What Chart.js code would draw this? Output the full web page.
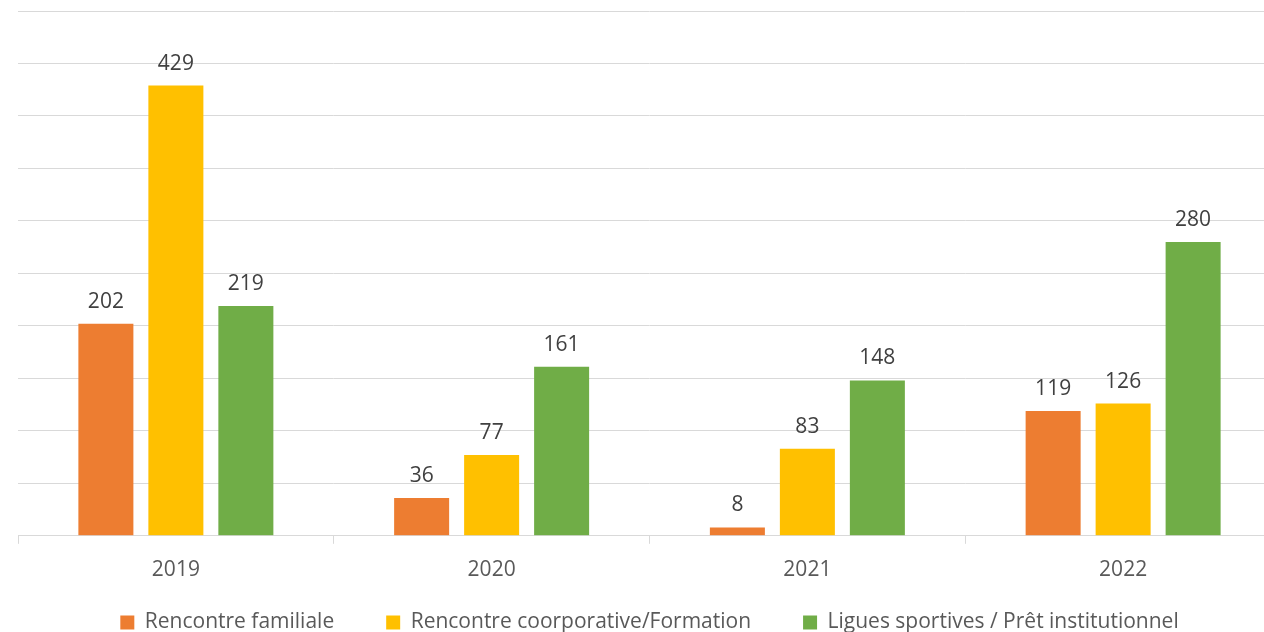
<!DOCTYPE html>
<html>
<head>
<meta charset="utf-8">
<script src="https://cdn.jsdelivr.net/npm/chart.js@4.4.0/dist/chart.umd.min.js"></script>
<style>
  html, body { margin: 0; padding: 0; background: #fff; overflow: hidden; }
  #wrap { width: 1300px; height: 632px; position: relative; }
</style>
</head>
<body>
<div id="wrap"><canvas id="c"></canvas></div>
<script>
const categories = ['2019', '2020', '2021', '2022'];
const seriesNames = ['Rencontre familiale', 'Rencontre coorporative/Formation', 'Ligues sportives / Prêt institutionnel'];
const familiale = [202, 36, 8, 119];
const corporative = [429, 77, 83, 126];
const ligues = [219, 161, 148, 280];
const colors = ['#ED7D31', '#FFC000', '#70AD47'];
const FONT = '"Open Sans", "Noto Sans", sans-serif';

const valueLabels = {
  id: 'valueLabels',
  afterDatasetsDraw(chart) {
    const ctx = chart.ctx;
    ctx.save();
    ctx.font = '21px ' + FONT;
    ctx.fillStyle = '#404040';
    ctx.textAlign = 'center';
    ctx.textBaseline = 'alphabetic';
    chart.data.datasets.forEach((ds, i) => {
      const meta = chart.getDatasetMeta(i);
      meta.data.forEach((el, j) => {
        ctx.fillText(String(ds.data[j]), el.x, el.y - 16);
      });
    });
    ctx.restore();
  }
};

// move the legend row after layout (keeps wide horizontal spacing)
const legendShift = {
  id: 'legendShift',
  afterLayout(chart) {
    const lg = chart.legend;
    if (!lg) return;
    const target = 612; // top of legend items
    const pad = lg.options.labels.padding;
    lg.top = target - pad;
    lg.bottom = chart.height;
    lg.height = lg.bottom - lg.top;
  }
};

new Chart(document.getElementById('c'), {
  type: 'bar',
  data: {
    labels: categories,
    datasets: [
      { label: seriesNames[0], data: familiale, backgroundColor: colors[0] },
      { label: seriesNames[1], data: corporative, backgroundColor: colors[1] },
      { label: seriesNames[2], data: ligues, backgroundColor: colors[2] }
    ]
  },
  options: {
    responsive: true,
    maintainAspectRatio: false,
    animation: false,
    layout: { padding: { left: 18, right: 19, top: 11, bottom: 0 } },
    datasets: { bar: { categoryPercentage: 0.665, barPercentage: 0.786 } },
    scales: {
      x: {
        offset: true,
        grid: { offset: true, drawOnChartArea: false, drawTicks: true, tickLength: 8, color: '#d9d9d9', lineWidth: 1 },
        border: { color: '#d9d9d9', width: 1 },
        ticks: { color: '#595959', font: { family: FONT, size: 21 }, padding: 14 }
      },
      y: {
        min: 0, max: 500,
        ticks: { display: false, stepSize: 50 },
        grid: { color: '#d9d9d9', lineWidth: 1, drawTicks: false },
        border: { display: false }
      }
    },
    plugins: {
      legend: {
        position: 'bottom',
        maxHeight: 35,
        labels: {
          color: '#595959',
          font: { family: FONT, size: 21 },
          boxWidth: 14, boxHeight: 14,
          padding: 52
        }
      },
      tooltip: { enabled: false }
    }
  },
  plugins: [valueLabels, legendShift]
});
</script>
</body>
</html>
